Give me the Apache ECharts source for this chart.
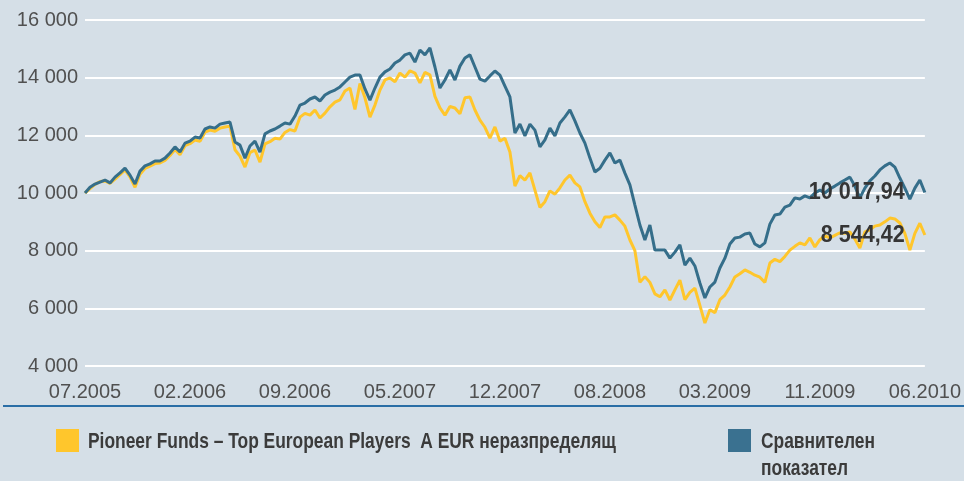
<!DOCTYPE html>
<html>
<head>
<meta charset="utf-8">
<title>Pioneer Funds - Top European Players</title>
<script src="https://cdn.jsdelivr.net/npm/echarts@6/dist/echarts.min.js"></script>
<style>
    html, body { margin: 0; padding: 0; background: #d5dfe7; }
    #multi-chart1 { width: 964px; height: 481px; }
</style>
</head>
<body>
<div id="multi-chart1"></div>
<script>
'use strict';
// tick labels on the x axis, evenly spread from first to last point
var xLabels = ['07.2005', '02.2006', '09.2006', '05.2007', '12.2007', '08.2008', '03.2009', '11.2009', '06.2010'];
var yTicks = [4000, 6000, 8000, 10000, 12000, 14000, 16000];

var fundName = 'Pioneer Funds \u2013 Top European Players  A EUR неразпределящ';
var benchLines = ['Сравнителен', 'показател'];

// fund (yellow)
var fundValues = [
    10000,10150,10300,10400,10420,10330,10480,10640,10800,10560,
    10200,10650,10850,10930,11020,11040,11130,11300,11510,11330,
    11640,11710,11840,11790,12110,12180,12140,12250,12290,12320,
    11500,11280,10900,11400,11490,11070,11700,11780,11900,11870,
    12100,12200,12150,12630,12760,12700,12880,12600,12770,12990,
    13150,13230,13540,13640,12900,13800,13300,12630,13050,13570,
    13920,13990,13860,14160,14020,14240,14160,13820,14180,14100,
    13350,12950,12700,13000,12950,12750,13300,13330,12880,12530,
    12280,11900,12290,11800,11900,11420,10240,10600,10450,10700,
    10100,9500,9700,10070,9960,10180,10450,10620,10350,10210,
    9700,9300,9000,8800,9170,9170,9240,9060,8850,8370,
    8000,6900,7100,6900,6500,6400,6640,6290,6640,6980,
    6300,6550,6700,6100,5490,5950,5850,6300,6460,6740,
    7090,7200,7330,7250,7150,7080,6900,7570,7700,7620,
    7800,8020,8150,8270,8200,8440,8130,8380,8510,8440,
    8530,8620,8600,8650,8400,8090,8650,8720,8850,8890,
    9000,9130,9100,8960,8600,8020,8600,8950,8544.42
];

// benchmark (blue)
var benchValues = [
    10000,10200,10310,10380,10450,10350,10550,10700,10860,10620,
    10310,10760,10940,11010,11110,11110,11210,11390,11600,11420,
    11730,11800,11940,11910,12220,12290,12250,12390,12430,12460,
    11770,11660,11210,11630,11800,11420,12050,12150,12220,12320,
    12430,12390,12670,13050,13120,13260,13330,13190,13400,13500,
    13570,13680,13850,14020,14090,14090,13610,13220,13640,14020,
    14200,14300,14510,14610,14790,14850,14540,14960,14790,15030,
    14370,13640,13920,14270,13920,14400,14680,14790,14370,13950,
    13880,14060,14230,14090,13710,13330,12080,12390,11980,12390,
    12180,11600,11840,12250,11980,12430,12640,12880,12500,12080,
    11730,11210,10730,10860,11140,11390,11040,11140,10690,10280,
    9580,8890,8370,8890,8020,8020,8020,7740,7950,8200,
    7500,7740,7470,6880,6360,6740,6910,7400,7740,8230,
    8440,8470,8580,8610,8230,8130,8270,8920,9240,9270,
    9510,9580,9830,9790,9900,9830,10000,10100,10000,10140,
    10240,10350,10450,10550,10240,9830,10170,10420,10590,10800,
    10940,11040,10900,10520,10170,9790,10170,10450,10017.94
];

var endLabels = ['8 544,42', '10 017,94'];

var BOLD_FONT = '"Liberation Sans", Arial, sans-serif';

function fmtThousands(v){
    return String(v).replace(/\B(?=(\d{3})+(?!\d))/g, ' ');
}

// the original uses a condensed face; squeeze the bold sans to the same width
var measureCtx = document.createElement('canvas').getContext('2d');
function squeeze(text, font, targetWidth){
    measureCtx.font = font;
    var w = measureCtx.measureText(text).width;
    return w > 0 ? targetWidth / w : 1;
}

function chart(){
    var n = fundValues.length;
    var step = (n - 1) / (xLabels.length - 1);
    var cats = [];
    for(var i = 0; i < n; i++){
        cats.push(i % step === 0 ? xLabels[i / step] : '');
    }
    var legendFont = 'bold 22px ' + BOLD_FONT;
    var legendScale = squeeze(fundName, legendFont, 528);
    var option = {
        backgroundColor: '#d5dfe7',
        animation: false,
        grid: { left: 85, right: 37, top: 20, bottom: 115 },
        xAxis: {
            type: 'category',
            data: cats,
            boundaryGap: false,
            axisLine: { show: false },
            axisTick: { show: false },
            splitLine: { show: false },
            axisLabel: {
                interval: step - 1,
                margin: 16,
                fontFamily: '"Liberation Sans", Arial, sans-serif',
                fontSize: 20,
                color: '#505050'
            }
        },
        yAxis: {
            type: 'value',
            min: yTicks[0],
            max: yTicks[yTicks.length - 1],
            interval: yTicks[1] - yTicks[0],
            axisLine: { show: false },
            axisTick: { show: false },
            axisLabel: {
                margin: 7,
                fontFamily: '"Liberation Sans", Arial, sans-serif',
                fontSize: 20,
                color: '#505050',
                formatter: fmtThousands
            },
            splitLine: { lineStyle: { color: '#ffffff', width: 2 } }
        },
        series: [
            {
                name: fundName,
                type: 'line',
                data: fundValues,
                showSymbol: false,
                symbol: 'none',
                lineStyle: { color: '#ffc62c', width: 3 },
                z: 2
            },
            {
                name: benchLines.join(' '),
                type: 'line',
                data: benchValues,
                showSymbol: false,
                symbol: 'none',
                lineStyle: { color: '#356e8a', width: 3 },
                z: 3
            }
        ],
        graphic: [
            { id: 'sep', type: 'rect', shape: { x: 3, y: 405, width: 961, height: 2 }, style: { fill: '#2a6ea6' } },
            { id: 'lg1box', type: 'rect', shape: { x: 56, y: 429, width: 23, height: 23 }, style: { fill: '#ffc62c' } },
            { id: 'lg1txt', type: 'text', x: 88, y: 442, scaleX: legendScale,
              style: { text: fundName, font: legendFont, fill: '#3b3b3b', verticalAlign: 'middle' } },
            { id: 'lg2box', type: 'rect', shape: { x: 728, y: 429, width: 23, height: 23 }, style: { fill: '#3a7190' } },
            { id: 'lg2txt1', type: 'text', x: 761, y: 442, scaleX: legendScale,
              style: { text: benchLines[0], font: legendFont, fill: '#3b3b3b', verticalAlign: 'middle' } },
            { id: 'lg2txt2', type: 'text', x: 761, y: 469, scaleX: legendScale,
              style: { text: benchLines[1], font: legendFont, fill: '#3b3b3b', verticalAlign: 'middle' } }
        ]
    };
    var myChart1 = echarts.init(document.getElementById('multi-chart1'));
    myChart1.setOption(option);

    // value labels just left of each line's last point
    var endFont = 'bold 24px ' + BOLD_FONT;
    var endScale = squeeze(endLabels[1], endFont, 96);
    var lastVals = [fundValues[n - 1], benchValues[n - 1]];
    var extra = lastVals.map(function(v, k){
        var p = myChart1.convertToPixel({ xAxisIndex: 0, yAxisIndex: 0 }, [n - 1, v]);
        return {
            id: 'end' + k, type: 'text', x: p[0] - 20, y: p[1], scaleX: endScale, z: 10,
            style: { text: endLabels[k], font: endFont, fill: '#353535', align: 'right', verticalAlign: 'middle' }
        };
    });
    myChart1.setOption({ graphic: extra });
}

chart();
</script>
</body>
</html>
